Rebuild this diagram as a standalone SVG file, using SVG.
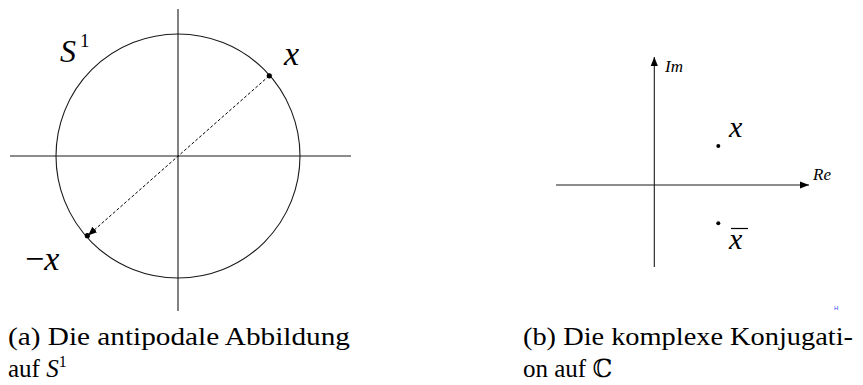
<svg xmlns="http://www.w3.org/2000/svg" width="863" height="385" viewBox="0 0 863 385">
<style>
.ax{stroke:#1a1a1a;stroke-width:1.1;fill:none}
.dot{fill:#000}
</style>
<defs>
<marker id="ah" viewBox="0 0 10 10" refX="10" refY="5" markerWidth="9" markerHeight="9" markerUnits="userSpaceOnUse" orient="auto">
<path d="M0,1 L10,5 L0,9 z" fill="#000"/>
</marker>
</defs>
<rect width="863" height="385" fill="#fff"/>
<g id="panel-a">
<g id="axes-a">
<line class="ax" x1="178" y1="9" x2="178" y2="311"/>
<line class="ax" x1="10" y1="156" x2="351" y2="156"/>
</g>
<g id="circle">
<circle cx="178" cy="156" r="122" class="ax"/>
</g>
<g id="connectors">
<line x1="269" y1="76" x2="88" y2="235.5" stroke="#000" stroke-width="1" stroke-dasharray="3,2" marker-end="url(#ah)"/>
</g>
<g id="point-x" font-family="Liberation Serif, serif" font-style="italic">
<circle class="dot" cx="269.3" cy="75.8" r="2.6"/>
<text x="284" y="65" font-size="34">x</text>
</g>
<g id="point-minus-x" font-family="Liberation Serif, serif" font-style="italic">
<circle class="dot" cx="87.3" cy="235.7" r="2.6"/>
<text x="25" y="270" font-size="34"><tspan font-style="normal">−</tspan>x</text>
</g>
<g id="label-S1" font-family="Liberation Serif, serif">
<text x="60" y="62" font-size="32" font-style="italic">S</text>
<text x="80" y="47" font-size="19">1</text>
</g>
</g>
<g id="panel-b" font-family="Liberation Serif, serif" font-style="italic">
<g id="axes-b">
<line class="ax" x1="654.3" y1="267" x2="654.3" y2="57" marker-end="url(#ah)"/>
<line class="ax" x1="556" y1="185" x2="809" y2="185" marker-end="url(#ah)"/>
<text x="665" y="72" font-size="17">Im</text>
<text x="813" y="180" font-size="17">Re</text>
</g>
<g id="point-xb">
<circle class="dot" cx="718.3" cy="146" r="2"/>
<text x="729" y="137" font-size="30">x</text>
</g>
<g id="point-xbar">
<circle class="dot" cx="718.3" cy="223.3" r="2"/>
<text x="729" y="249" font-size="30">x</text>
<line x1="731" y1="228.5" x2="748" y2="228.5" stroke="#000" stroke-width="1.2"/>
</g>
</g>
<g id="captions" font-family="Liberation Serif, serif" font-size="25" fill="#000">
<text x="8" y="345" textLength="342" lengthAdjust="spacingAndGlyphs">(a) Die antipodale Abbildung</text>
<text x="8" y="377">auf <tspan font-style="italic">S</tspan><tspan font-size="16" dy="-10">1</tspan></text>
<text x="523" y="345" textLength="330" lengthAdjust="spacingAndGlyphs">(b) Die komplexe Konjugati-</text>
<text x="523" y="377">on auf <tspan font-family="DejaVu Serif, serif">ℂ</tspan></text>
<text x="834" y="310" font-family="Liberation Sans, sans-serif" font-size="6" fill="#3344ff">H</text>
</g>
</svg>
